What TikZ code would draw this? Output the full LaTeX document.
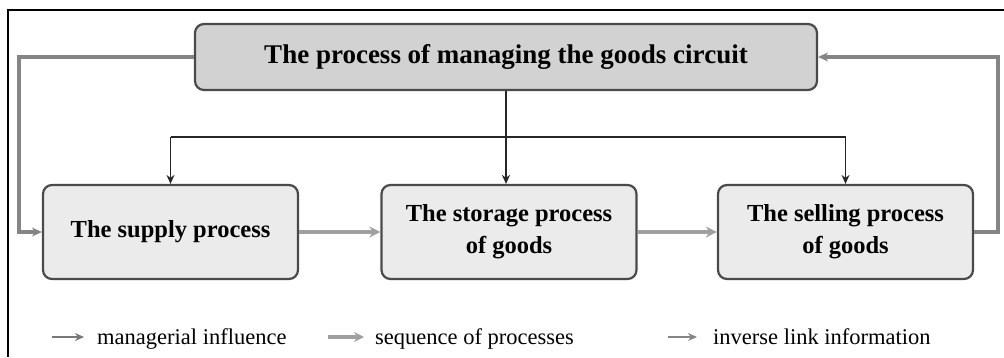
\documentclass[tikz,border=0pt]{standalone}
\usepackage{fontspec}
\setmainfont{Liberation Serif}
\usetikzlibrary{arrows.meta}
\definecolor{topfill}{HTML}{D2D2D2}
\definecolor{boxfill}{HTML}{EBEBEB}
\definecolor{boxline}{HTML}{4A4A4A}
\definecolor{invcol}{HTML}{858585}
\definecolor{seqcol}{HTML}{A0A0A0}
\tikzset{
  procbox/.style={draw=boxline, line width=2.2pt, rounded corners=9pt, fill=boxfill, align=center,
    font=\fontsize{24.5}{32}\selectfont\bfseries, minimum width=255pt, minimum height=94pt, inner sep=0pt},
  topbox/.style={procbox, fill=topfill, font=\fontsize{27}{32}\selectfont\bfseries, minimum width=622pt, minimum height=66pt},
  mgr/.style={black!85, line width=1.6pt},
  mgrarrow/.style={mgr, -{Stealth[length=9pt,width=8pt]}},
  inv/.style={invcol, line width=3.4pt, -{Stealth[length=10pt,width=9pt]}},
  seq/.style={seqcol, line width=4.6pt, -{Stealth[length=11pt,width=11pt]}},
  legtext/.style={anchor=base west, inner sep=0pt, font=\fontsize{22.5}{26}\selectfont},
  frame/.style={black, line width=1.8pt}
}
\begin{document}
\begin{tikzpicture}[x=1pt,y=-1pt]
\useasboundingbox (0,0) rectangle (1004,357);
% frame
\coordinate (fl) at (8,357);
\coordinate (fc) at (8,10);
\coordinate (fr) at (1004,10);
\draw[frame] (fl) -- (fc) -- (fr);
% nodes
\node[topbox] (top) at (506,57) {The process of managing the goods circuit};
\node[procbox] (supply) at (170.5,232) {The supply process};
\node[procbox] (storage) at (509,232) {The storage process\\of goods};
\node[procbox] (sell) at (845.5,232) {The selling process\\of goods};
% managerial influence
\coordinate (bus) at (0,137);
\draw[mgrarrow] (top.south) -- (top.south |- storage.north);
\draw[mgr] (supply.north |- bus) -- (sell.north |- bus);
\draw[mgrarrow] (supply.north |- bus) -- (supply.north);
\draw[mgrarrow] (sell.north |- bus) -- (sell.north);
% sequence
\draw[seq] (supply.east) -- (storage.west);
\draw[seq] (storage.east) -- (sell.west);
% inverse links
\coordinate (lcorner) at (19,232);
\coordinate (rcorner) at (998,57);
\draw[inv] (top.west) -| (lcorner) -- (supply.west);
\draw[inv] (sell.east) -| (rcorner) -- (top.east);
% legend
\coordinate (l1a) at (52,337); \coordinate (l1b) at (84,337);
\coordinate (l2a) at (328,337); \coordinate (l2b) at (364,337);
\coordinate (l3a) at (668,337); \coordinate (l3b) at (697,337);
\draw[invcol!90!black, line width=2.6pt, -{Stealth[length=9pt,width=8pt]}] (l1a) -- (l1b);
\draw[seqcol, line width=4pt, -{Stealth[length=10pt,width=10pt]}] (l2a) -- (l2b);
\draw[invcol, line width=2.8pt, -{Stealth[length=9pt,width=8pt]}] (l3a) -- (l3b);
\node[legtext] (t1) at (97,344) {managerial influence};
\node[legtext] (t2) at (375,344) {sequence of processes};
\node[legtext] (t3) at (713,344) {inverse link information};
\end{tikzpicture}
\end{document}
